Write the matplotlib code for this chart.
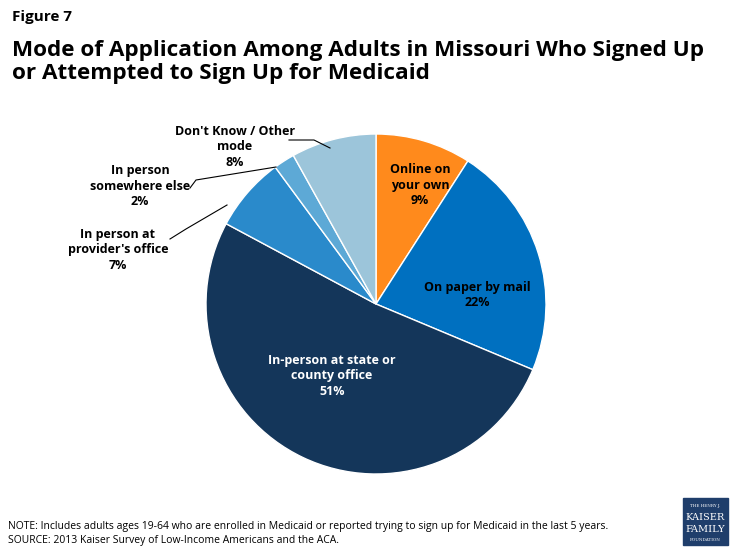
import matplotlib
matplotlib.use("Agg")
import matplotlib.pyplot as plt
from matplotlib.patches import Rectangle

categories = ["Online on\nyour own", "On paper by mail", "In-person at state or\ncounty office",
              "In person at\nprovider's office", "In person\nsomewhere else", "Don't Know / Other\nmode"]
values = [9, 22, 51, 7, 2, 8]
colors = ["#FF8A1C", "#0070C0", "#14365A", "#2A8ACB", "#5DA9D6", "#9CC5DA"]

W, H = 735, 551
fig = plt.figure(figsize=(W/100, H/100), dpi=100)
FONT = "Open Sans"
def px(x, y):
    return x / W, 1 - y / H

fig.text(*px(12, 17), "Figure 7", fontsize=11, fontweight="bold", family=FONT, va="center")
fig.text(*px(12, 62), "Mode of Application Among Adults in Missouri Who Signed Up\nor Attempted to Sign Up for Medicaid",
         fontsize=16.2, fontweight="bold", family=FONT, va="center", linespacing=1.15)

cx, cy, r = 376, 304, 170
ax = fig.add_axes([(cx - r)/W, (H - cy - r)/H, 2*r/W, 2*r/H])
ax.pie(values, colors=colors, startangle=90, counterclock=False,
       wedgeprops=dict(edgecolor="white", linewidth=1))
ax.set_xlim(-1, 1)
ax.set_ylim(-1, 1)
ax.set_aspect("equal")
ax.axis("off")

labs = [f"{c}\n{v}%" for c, v in zip(categories, values)]
inside = [(420, 185, "black"), (477, 295, "black"), (332, 376, "white")]
for (x, y, c), t in zip(inside, labs[:3]):
    fig.text(*px(x, y), t, ha="center", va="center", fontsize=9, fontweight="bold",
             family=FONT, color=c, linespacing=1.25)

outside = [(118, 250), (140, 186), (235, 147)]
for (x, y), t in zip(outside, labs[3:]):
    fig.text(*px(x, y), t, ha="center", va="center", fontsize=9, fontweight="bold",
             family=FONT, linespacing=1.25)
out_lines = [((170, 239), (186, 229), (227, 205)), ((190, 188), (196, 180), (276, 167)),
             ((289, 140), (314, 140), (330, 148))]
for pts in out_lines:
    xs = [p[0]/W for p in pts]; ys = [1 - p[1]/H for p in pts]
    fig.add_artist(plt.Line2D(xs, ys, color="black", lw=0.8))

fig.text(*px(8, 526), "NOTE: Includes adults ages 19-64 who are enrolled in Medicaid or reported trying to sign up for Medicaid in the last 5 years.",
         fontsize=7.5, family=FONT, va="center")
fig.text(*px(8, 541), "SOURCE: 2013 Kaiser Survey of Low-Income Americans and the ACA.",
         fontsize=7.5, family=FONT, va="center")

lx, ly = px(683, 545)
fig.add_artist(Rectangle((lx, ly), 45/W, 47/H, color="#1F3E6B", transform=fig.transFigure))
fig.text(*px(705, 506), "THE HENRY J.", fontsize=3, color="white", ha="center", va="center", family="DejaVu Serif")
fig.text(*px(705, 517), "KAISER", fontsize=7, color="white", ha="center", va="center", family="DejaVu Serif")
fig.text(*px(705, 529), "FAMILY", fontsize=7, color="white", ha="center", va="center", family="DejaVu Serif")
fig.text(*px(705, 540), "FOUNDATION", fontsize=3, color="white", ha="center", va="center", family="DejaVu Serif")

fig.savefig("out.png", dpi=100)
